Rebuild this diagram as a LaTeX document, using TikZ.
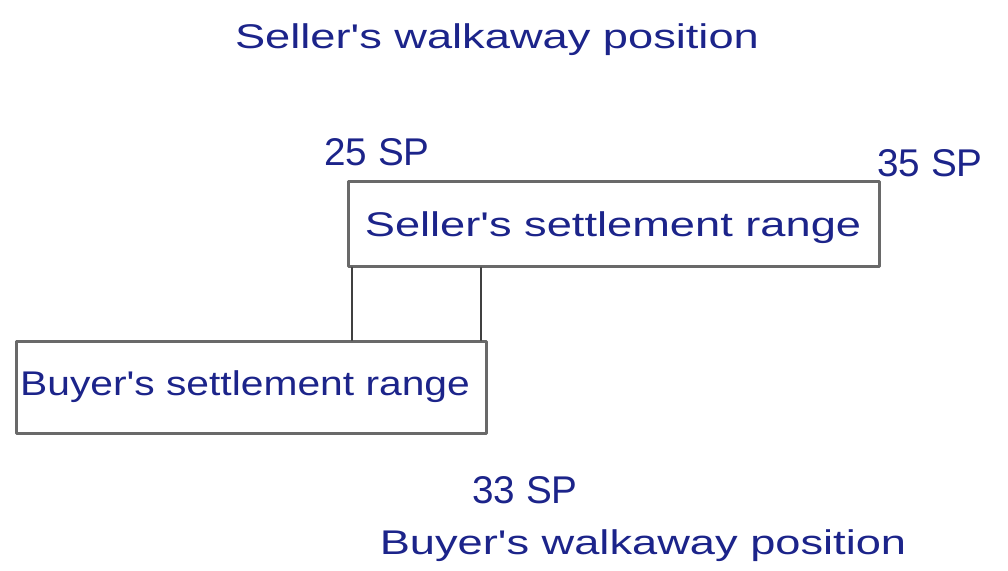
\documentclass[tikz,border=0pt]{standalone}
\usepackage{fontspec}
\setmainfont{Liberation Sans}
\newfontfamily\handwide[FakeStretch=1.32]{Liberation Sans}
\newfontfamily\handnarrow[FakeStretch=1.19]{Liberation Sans}
\usetikzlibrary{positioning,calc}
\definecolor{ink}{RGB}{28,36,138}
\definecolor{pencil}{RGB}{105,105,105}
\tikzset{
  every picture/.style={line cap=round, line join=round},
  % Schrift
  hand/.style={ink, font=\handwide\fontsize{19.5}{22}\selectfont, inner sep=0pt},
  handin/.style={ink, font=\handnarrow\fontsize{19.5}{22}\selectfont, inner sep=0pt},
  price/.style={ink, font=\fontsize{22}{24}\selectfont, inner sep=0pt},
  % Kästen
  rangebox/.style={draw=pencil, line width=1.6pt, inner sep=0pt},
  tie/.style={draw=black!75, line width=1.3pt},
}
\begin{document}
\begin{tikzpicture}[x=0.02cm, y=-0.02cm]
  \useasboundingbox (0,0) rectangle (1008,571);
  % Verkäufer
  \node[hand] (sellwalk) at (497,40) {Seller's walkaway position};
  \node[rangebox, minimum width=531*0.02cm, minimum height=85*0.02cm, anchor=north west] (sellbox) at (347,180) {};
  \node[hand] (selltext) at (613,228) {Seller's settlement range};
  \node[price] (p25) at (377,152) {25 SP};
  \node[price] (p35) at (930,163) {35 SP};
  % Käufer
  \node[rangebox, minimum width=470*0.02cm, minimum height=92*0.02cm, anchor=north west] (buybox) at (15,340) {};
  \node[handin] (buytext) at (245,387) {Buyer's settlement range};
  \node[price] (p33) at (525,490) {33 SP};
  \node[hand] (buywalk) at (643,546) {Buyer's walkaway position};
  % Überschneidung
  \coordinate (olow) at (352,340);
  \coordinate (ohigh) at (481,340);
  \draw[tie] (sellbox.south west -| olow) -- (olow);
  \draw[tie] (sellbox.south west -| ohigh) -- (ohigh);
\end{tikzpicture}
\end{document}
